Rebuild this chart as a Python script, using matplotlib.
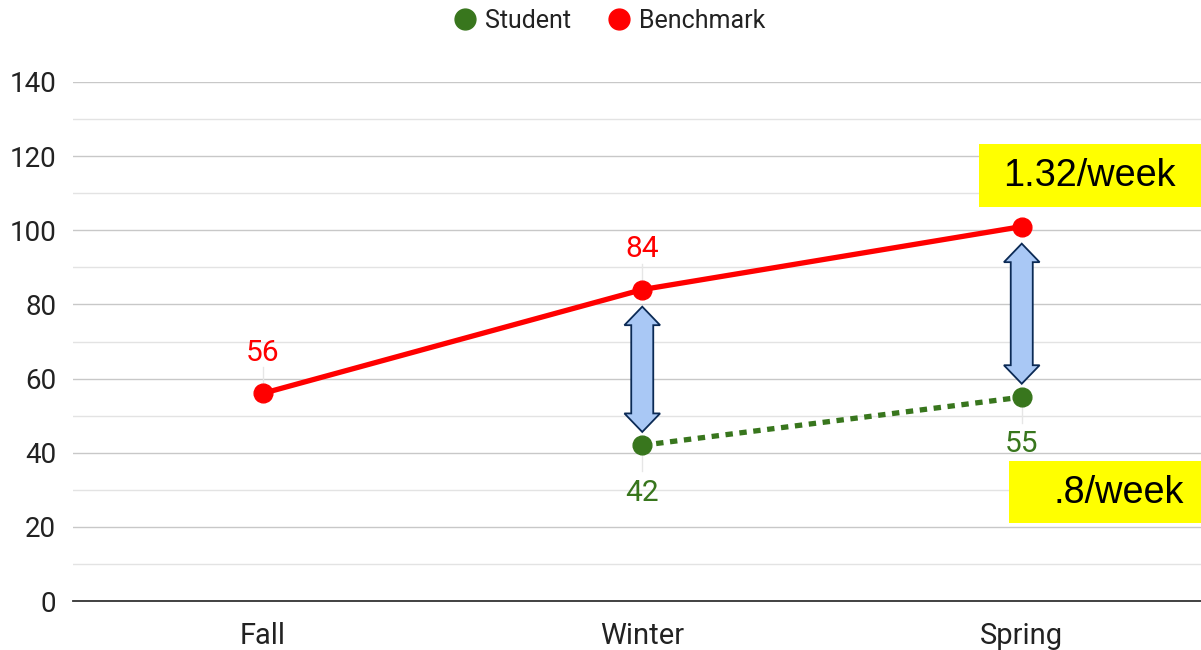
import matplotlib
matplotlib.use("Agg")
import matplotlib.pyplot as plt
from matplotlib.patches import Polygon, Rectangle
from matplotlib.lines import Line2D

# ---- data ----
seasons = ["Fall", "Winter", "Spring"]
benchmark = [56, 84, 101]
student_seasons = ["Winter", "Spring"]
student = [42, 55]
benchmark_rate = "1.32/week"
student_rate = ".8/week"

RED = "#ff0000"
GREEN = "#38761d"
ARROW_FILL = "#a9c8f5"
ARROW_EDGE = "#0b2a55"

plt.rcParams["font.family"] = ["Roboto", "DejaVu Sans"]

fig = plt.figure(figsize=(12.01, 6.5), dpi=100)
ax = fig.add_axes([73 / 1201, 49 / 650, 1138.5 / 1201, 519 / 650])

xb = [seasons.index(s) for s in seasons]
xs = [seasons.index(s) for s in student_seasons]

ax.set_xlim(-0.5, 2.5)
ax.set_ylim(0, 140)

# grid
ax.set_yticks(range(0, 141, 20))
ax.set_yticks(range(10, 140, 20), minor=True)
ax.grid(axis="y", which="major", color="#c8c8c8", lw=1.0, zorder=0)
ax.grid(axis="y", which="minor", color="#e3e3e3", lw=1.0, zorder=0)
ax.set_axisbelow(True)
for sp in ["top", "right", "left"]:
    ax.spines[sp].set_visible(False)
ax.spines["bottom"].set_color("#333333")
ax.spines["bottom"].set_linewidth(1.3)
ax.spines["bottom"].set_zorder(1)
ax.tick_params(axis="both", which="both", length=0)
ax.tick_params(axis="y", pad=12, labelsize=20, labelcolor="#222222")
ax.tick_params(axis="x", pad=15, labelsize=21, labelcolor="#222222")
ax.set_xticks(xb)
ax.set_xticklabels(seasons)

# series
ax.plot(xb, benchmark, color=RED, lw=3.8, marker="o", ms=13.5, zorder=4,
        solid_capstyle="round")
ax.plot(xs, student, color=GREEN, lw=3.8, ls=(0, (1.4, 1.25)), zorder=3)
ax.plot(xs, student, color=GREEN, lw=0, marker="o", ms=13.5, zorder=4)

# value labels with faint leader lines (last benchmark point sits under the
# rate call-out, so it is left unlabelled)
for x, v in list(zip(xb, benchmark))[:-1]:
    ax.plot([x, x], [v, v + 7], color="#e6e6e6", lw=1, zorder=1)
    ax.annotate(str(v), (x, v), xytext=(0, 29), textcoords="offset points",
                ha="center", va="center", fontsize=21.5, color=RED, zorder=2)
for x, v in zip(xs, student):
    ax.plot([x, x], [v, v - 7], color="#e6e6e6", lw=1, zorder=1)
    ax.annotate(str(v), (x, v), xytext=(0, -34), textcoords="offset points",
                ha="center", va="center", fontsize=21.5, color=GREEN, zorder=2)


# double-headed gap arrows between benchmark and student
def double_arrow(x, y0, y1, shaft=0.029, head=0.047, head_len=5.0):
    pts = [
        (x, y1),
        (x + head, y1 - head_len),
        (x + shaft, y1 - head_len),
        (x + shaft, y0 + head_len),
        (x + head, y0 + head_len),
        (x, y0),
        (x - head, y0 + head_len),
        (x - shaft, y0 + head_len),
        (x - shaft, y1 - head_len),
        (x - head, y1 - head_len),
    ]
    ax.add_patch(Polygon(pts, closed=True, facecolor=ARROW_FILL,
                         edgecolor=ARROW_EDGE, lw=1.3, zorder=5))


for name, sv in zip(student_seasons, student):
    i = seasons.index(name)
    double_arrow(i, sv + 3.6, benchmark[i] - 4.6)

# weekly growth rate call-outs
ax.add_patch(Rectangle((1.887, 106.3), 0.7, 17.0, facecolor="#ffff00",
                       edgecolor="none", zorder=6, clip_on=False))
ax.text(2.179, 114.7, benchmark_rate, ha="center", va="center",
        fontsize=27.3, family=["Liberation Sans", "DejaVu Sans"], zorder=7)
ax.add_patch(Rectangle((1.966, 21.0), 0.7, 16.8, facecolor="#ffff00",
                       edgecolor="none", zorder=6, clip_on=False))
ax.text(2.256, 29.2, student_rate, ha="center", va="center",
        fontsize=27.3, family=["Liberation Sans", "DejaVu Sans"], zorder=7)

# legend
handles = [
    Line2D([], [], color=GREEN, marker="o", ls="none", ms=15),
    Line2D([], [], color=RED, marker="o", ls="none", ms=15),
]
fig.legend(handles, ["Student", "Benchmark"], loc="center",
           bbox_to_anchor=(609 / 1201, 1 - 21 / 650), ncol=2, frameon=False,
           fontsize=18, handletextpad=0.3, columnspacing=1.4,
           handlelength=1.0, labelcolor="#222222")

fig.savefig("out.png", dpi=100)
